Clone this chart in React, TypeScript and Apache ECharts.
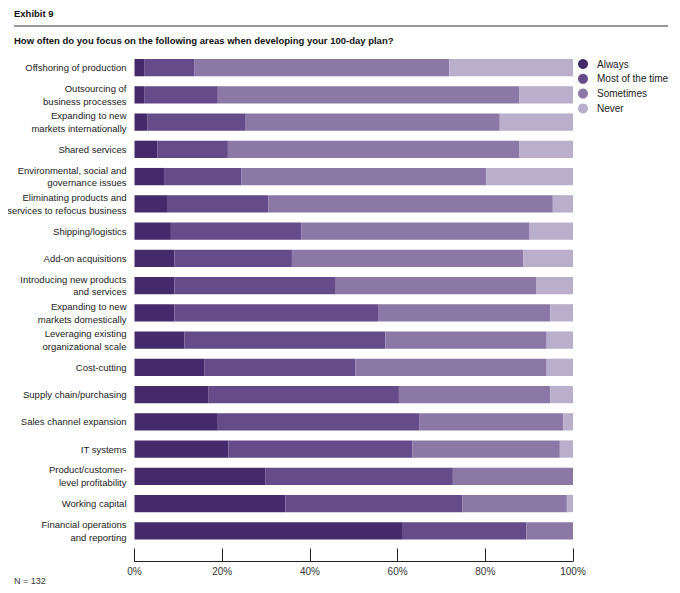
import React, { useEffect, useRef } from "react";
import * as echarts from "echarts";

const categories = [
  "Offshoring of production",
  "Outsourcing of\nbusiness processes",
  "Expanding to new\nmarkets internationally",
  "Shared services",
  "Environmental, social and\ngovernance issues",
  "Eliminating products and\nservices to refocus business",
  "Shipping/logistics",
  "Add-on acquisitions",
  "Introducing new products\nand services",
  "Expanding to new\nmarkets domestically",
  "Leveraging existing\norganizational scale",
  "Cost-cutting",
  "Supply chain/purchasing",
  "Sales channel expansion",
  "IT systems",
  "Product/customer-\nlevel profitability",
  "Working capital",
  "Financial operations\nand reporting",
];

const always = [2.2, 2.2, 2.9, 5.2, 6.9, 7.6, 8.3, 9.1, 9.1, 9.1, 11.4, 16.0, 16.8, 19.0, 21.4, 29.8, 34.4, 61.0];
const mostOfTheTime = [11.4, 16.8, 22.3, 16.1, 17.5, 22.9, 29.8, 26.8, 36.8, 46.6, 45.8, 34.4, 43.5, 45.9, 42.0, 42.8, 40.4, 28.4];
const sometimes = [58.2, 68.8, 58.1, 66.5, 55.8, 64.9, 52.0, 52.8, 45.8, 39.1, 36.8, 43.6, 34.5, 32.9, 33.6, 27.4, 23.8, 10.6];
const never = [28.2, 12.2, 16.7, 12.2, 19.8, 4.6, 9.9, 11.3, 8.3, 5.2, 6.0, 6.0, 5.2, 2.2, 3.0, 0, 1.4, 0];

const seriesNames = ["Always", "Most of the time", "Sometimes", "Never"];
const seriesData = [always, mostOfTheTime, sometimes, never];
const colors = ["#452a6b", "#664b8a", "#8b78a7", "#b9aecb"];
const xTicks = [0, 20, 40, 60, 80, 100];

const FONT = "'Liberation Sans', Arial, sans-serif";

export default function App() {
  const ref = useRef<HTMLDivElement>(null);
  useEffect(() => {
    if (!ref.current) return;
    const chart = echarts.init(ref.current, undefined, { renderer: "svg" });
    chart.setOption({
      animation: false,
      backgroundColor: "#ffffff",
      textStyle: { fontFamily: FONT },
      graphic: [
        {
          type: "text",
          left: 14,
          top: 8,
          style: { text: "Exhibit 9", font: `bold 9.5px ${FONT}`, fill: "#111" },
        },
        {
          type: "line",
          shape: { x1: 14, y1: 26, x2: 668, y2: 26 },
          style: { stroke: "#333", lineWidth: 1.2 },
        },
        {
          type: "text",
          left: 14,
          top: 35,
          style: {
            text: "How often do you focus on the following areas when developing your 100-day plan?",
            font: `bold 9.5px ${FONT}`,
            fill: "#111",
          },
        },
        {
          type: "text",
          left: 14,
          top: 576,
          style: { text: "N = 132", font: `9px ${FONT}`, fill: "#333" },
        },
      ],
      legend: {
        orient: "vertical",
        left: 578,
        top: 59,
        padding: 0,
        icon: "circle",
        itemWidth: 18,
        itemHeight: 10,
        itemGap: 4.8,
        textStyle: { fontFamily: FONT, fontSize: 10, color: "#222" },
        data: seriesNames,
      },
      grid: {
        left: 134.5,
        right: 107,
        top: 54,
        bottom: 48.6,
        containLabel: false,
        outerBoundsMode: "none",
      },
      xAxis: {
        type: "value",
        min: 0,
        max: 100,
        interval: 20,
        offset: 17,
        axisLine: { show: true, lineStyle: { color: "#222", width: 1 } },
        axisTick: { show: true, inside: true, length: 13, lineStyle: { color: "#222", width: 1 } },
        splitLine: { show: false },
        axisLabel: {
          formatter: (v: number) => (xTicks.includes(v) ? `${v}%` : ""),
          fontFamily: FONT,
          fontSize: 10,
          color: "#333",
          margin: 5,
        },
      },
      yAxis: {
        type: "category",
        data: categories,
        inverse: true,
        axisLine: { show: false },
        axisTick: { show: false },
        axisLabel: {
          fontFamily: FONT,
          fontSize: 9.5,
          color: "#222",
          lineHeight: 12.7,
          margin: 8,
        },
      },
      series: seriesData.map((d, i) => ({
        name: seriesNames[i],
        type: "bar",
        stack: "total",
        data: d,
        barWidth: 17.3,
        itemStyle: { color: colors[i] },
        emphasis: { disabled: true },
      })),
    });
    return () => chart.dispose();
  }, []);
  return <div ref={ref} style={{ width: 680, height: 593, margin: -8 }} />;
}
